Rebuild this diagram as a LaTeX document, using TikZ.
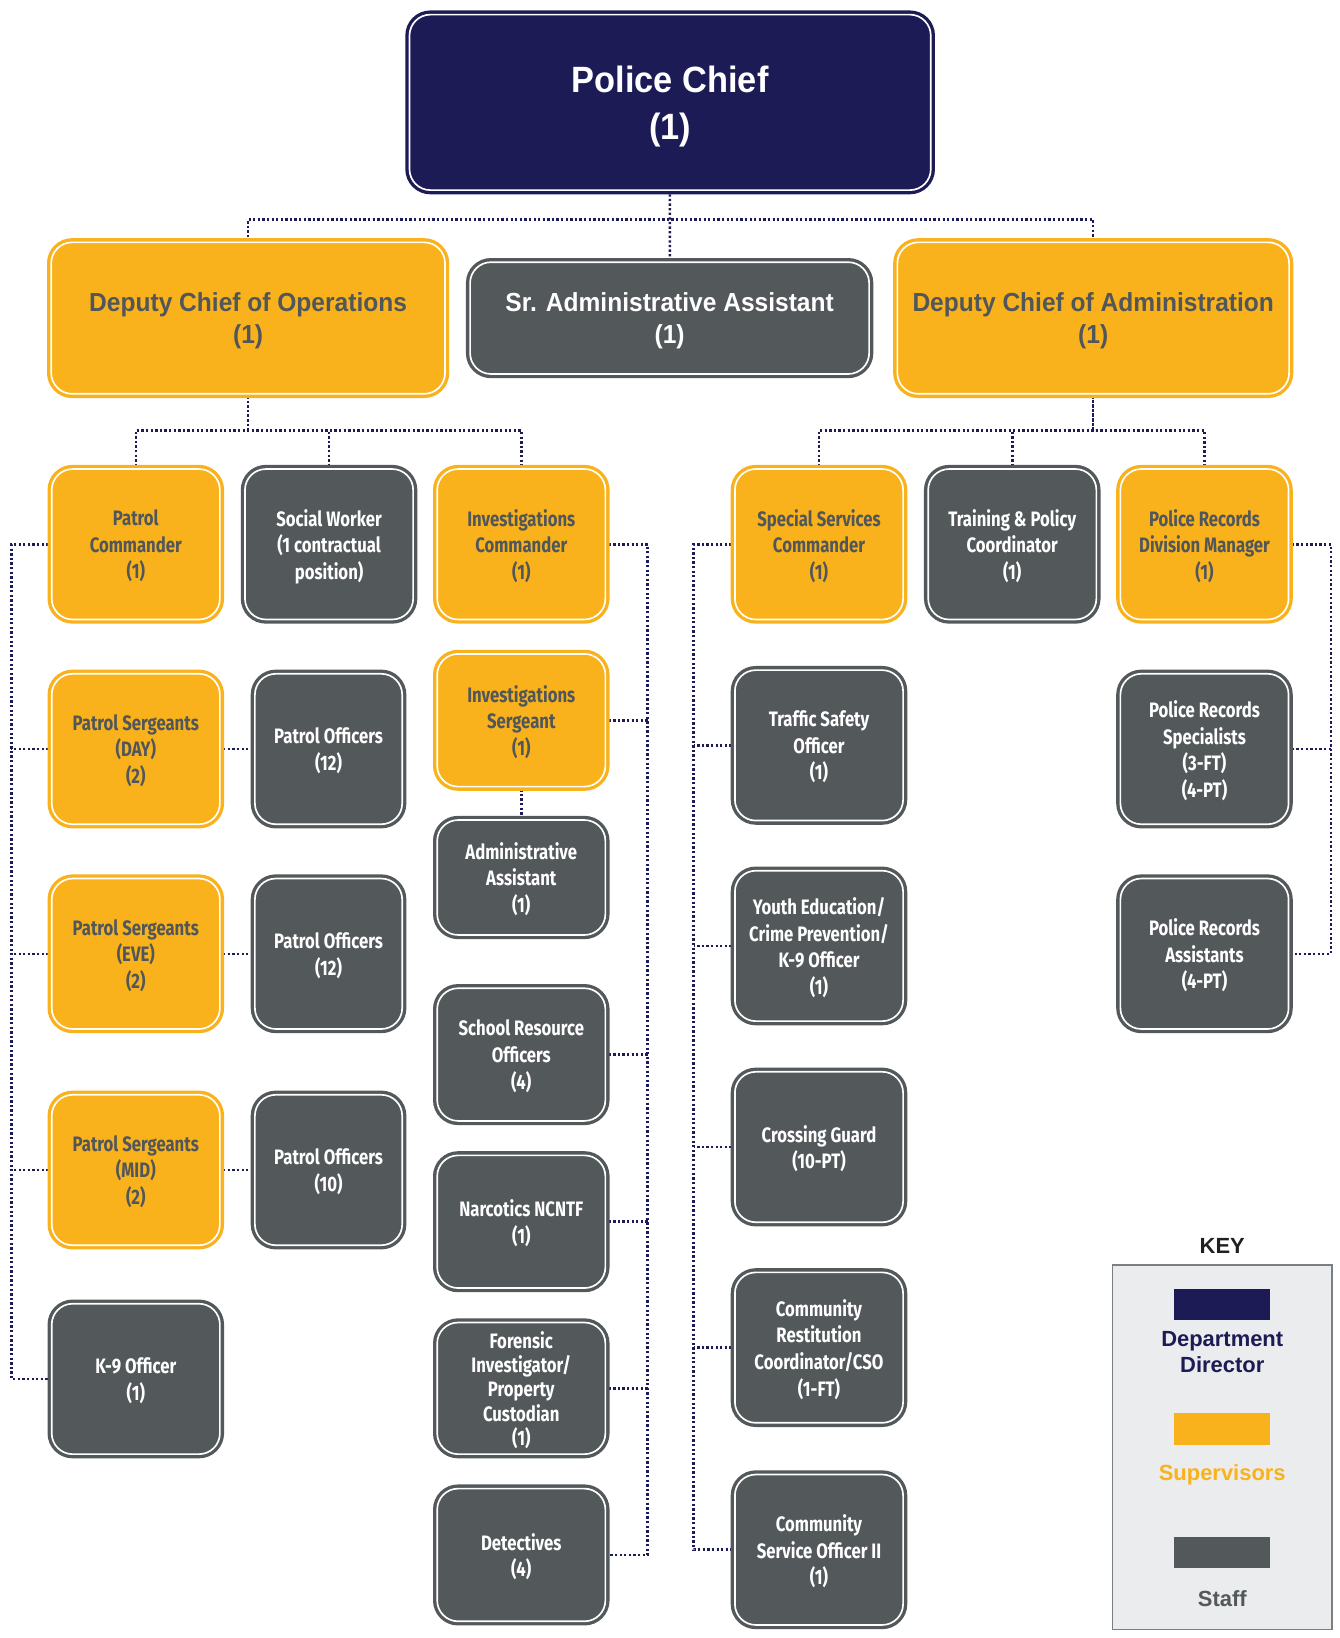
\documentclass[tikz,border=0pt]{standalone}
\usepackage{fontspec}
\usetikzlibrary{backgrounds}
\newfontfamily\condf[FakeStretch=0.8]{Fira Sans}
\newfontfamily\headf[FakeStretch=0.94]{Liberation Sans}
\newfontfamily\keyf{Liberation Sans}
\definecolor{navy}{HTML}{1D1B55}
\definecolor{ylw}{HTML}{F9B21B}
\definecolor{gry}{HTML}{53585A}
\definecolor{gtxt}{HTML}{50565A}
\definecolor{keybg}{HTML}{EBECEE}
\definecolor{keyln}{HTML}{7B7F82}
\definecolor{keytxt}{HTML}{231F20}
\tikzset{
  base/.style={rounded corners=20pt, line width=3.2pt, double distance=1.6pt, align=center, inner sep=0pt, text depth=0pt},
  supbox/.style={base, fill=ylw, draw=ylw, double=white, text=gtxt, font=\condf\bfseries\fontsize{20}{25.5}\selectfont},
  stfbox/.style={base, fill=gry, draw=gry, double=white, text=white, font=\condf\bfseries\fontsize{20}{25.5}\selectfont},
  dirbox/.style={base, fill=navy, draw=navy, double=white, text=white, font=\headf\bfseries\fontsize{35}{45}\selectfont},
  depsup/.style={supbox, font=\headf\bfseries\fontsize{25}{30}\selectfont},
  depstf/.style={stfbox, font=\headf\bfseries\fontsize{25}{30}\selectfont},
  std/.style={minimum width=161pt, minimum height=144pt},
  conn/.style={draw=navy, line width=2.4pt, dash pattern=on 2.2pt off 2.2pt},
  swatch/.style={minimum width=92pt, minimum height=30pt, inner sep=0pt},
}
\begin{document}
\begin{tikzpicture}[x=1pt,y=-1pt]
\useasboundingbox (0,0) rectangle (1282,1568);
% top level
\node[dirbox, minimum width=499pt, minimum height=168pt] (chief) at (641.5,98) {Police Chief\\(1)};
\node[depsup, minimum width=377pt, minimum height=145pt] (dco) at (237.5,304.5) {Deputy Chief of Operations\\(1)};
\node[depstf, minimum width=382pt, minimum height=107pt] (sraa) at (641,304.5) {Sr. Administrative Assistant\\(1)};
\node[depsup, minimum width=375pt, minimum height=145pt] (dca) at (1046.5,304.5) {Deputy Chief of Administration\\(1)};
% row 1
\node[supbox, std] (pcmd) at (130,521) {Patrol\\Commander\\(1)};
\node[stfbox, std] (sw) at (315,521) {Social Worker\\(1 contractual\\position)};
\node[supbox, std] (icmd) at (499,521) {Investigations\\Commander\\(1)};
\node[supbox, std] (sscmd) at (784,521) {Special Services\\Commander\\(1)};
\node[stfbox, std] (tpc) at (969,521) {Training \& Policy\\Coordinator\\(1)};
\node[supbox, std] (prdm) at (1153,521) {Police Records\\Division Manager\\(1)};
% patrol column
\node[supbox, std] (psday) at (130,717) {Patrol Sergeants\\(DAY)\\(2)};
\node[supbox, std] (pseve) at (130,913) {Patrol Sergeants\\(EVE)\\(2)};
\node[supbox, std] (psmid) at (130,1120) {Patrol Sergeants\\(MID)\\(2)};
\node[stfbox, std] (kn) at (130,1320) {K-9 Officer\\(1)};
\node[stfbox, minimum width=141pt, minimum height=144pt] (poday) at (314.5,717) {Patrol Officers\\(12)};
\node[stfbox, minimum width=141pt, minimum height=144pt] (poeve) at (314.5,913) {Patrol Officers\\(12)};
\node[stfbox, minimum width=141pt, minimum height=144pt] (pomid) at (314.5,1120) {Patrol Officers\\(10)};
% investigations column
\node[supbox, minimum width=161pt, minimum height=127pt] (isgt) at (499,689.5) {Investigations\\Sergeant\\(1)};
\node[stfbox, minimum width=161pt, minimum height=110pt] (aa) at (499,840) {Administrative\\Assistant\\(1)};
\node[stfbox, minimum width=161pt, minimum height=127pt] (sro) at (499,1009.5) {School Resource\\Officers\\(4)};
\node[stfbox, minimum width=161pt, minimum height=127pt] (narc) at (499,1169.5) {Narcotics NCNTF\\(1)};
\node[stfbox, minimum width=161pt, minimum height=126pt, font=\condf\bfseries\fontsize{20}{23.2}\selectfont] (foren) at (499,1329) {Forensic\\Investigator/\\Property\\Custodian\\(1)};
\node[stfbox, minimum width=161pt, minimum height=127pt] (det) at (499,1488.5) {Detectives\\(4)};
% special services column
\node[stfbox, std] (traffic) at (784,713.5) {Traffic Safety\\Officer\\(1)};
\node[stfbox, std] (youth) at (784,905.5) {Youth Education/\\Crime Prevention/\\K-9 Officer\\(1)};
\node[stfbox, std] (cross) at (784,1098) {Crossing Guard\\(10-PT)};
\node[stfbox, std] (restit) at (784,1290) {Community\\Restitution\\Coordinator/CSO\\(1-FT)};
\node[stfbox, std] (cso) at (784,1483.5) {Community\\Service Officer II\\(1)};
% records column
\node[stfbox, std] (prs) at (1153,717) {Police Records\\Specialists\\(3-FT)\\(4-PT)};
\node[stfbox, std] (pra) at (1153,913) {Police Records\\Assistants\\(4-PT)};
% key
\node[font=\keyf\bfseries\fontsize{21}{24}\selectfont, text=keytxt] (keyt) at (1170,1193) {KEY};
\node[draw=keyln, line width=1.5pt, fill=keybg, minimum width=210pt, minimum height=349pt, inner sep=0pt] (keybox) at (1170,1385.5) {};
\node[swatch, fill=navy] (kw1) at (1170,1249) {};
\node[swatch, fill=ylw] (kw2) at (1170,1368) {};
\node[swatch, fill=gry] (kw3) at (1170,1486) {};
\node[font=\keyf\bfseries\fontsize{21}{25}\selectfont, text=navy, align=center] (kl1) at (1170,1294) {Department\\Director};
\node[font=\keyf\bfseries\fontsize{21}{25}\selectfont, text=ylw] (kl2) at (1170,1412) {Supervisors};
\node[font=\keyf\bfseries\fontsize{21}{25}\selectfont, text=gry] (kl3) at (1170,1530) {Staff};
% connectors
\coordinate (topbus) at (641,210);
\coordinate (opsbus) at (233,412);
\coordinate (admbus) at (1049,412);
\coordinate (pl) at (11,0);
\coordinate (ir) at (620,0);
\coordinate (sl) at (664,0);
\coordinate (rr) at (1274,0);
\begin{pgfonlayer}{background}
\draw[conn] (chief.center) -- (sraa.center);
\draw[conn] (dco.center |- opsbus) |- (topbus) -| (dca.center |- admbus);
\draw[conn] (dco.center) -- (dco.center |- opsbus);
\draw[conn] (dca.center) -- (dca.center |- admbus);
\draw[conn] (pcmd.center) |- (opsbus) -| (icmd.center);
\draw[conn] (sw.center) -- (sw.center |- opsbus);
\draw[conn] (sscmd.center) |- (admbus) -| (prdm.center);
\draw[conn] (tpc.center) -- (tpc.center |- admbus);
% patrol
\draw[conn] (pcmd.center) -- (pcmd.center -| pl) -- (kn.center -| pl) -- (kn.center);
\draw[conn] (psday.center) -- (psday.center -| pl);
\draw[conn] (pseve.center) -- (pseve.center -| pl);
\draw[conn] (psmid.center) -- (psmid.center -| pl);
\draw[conn] (psday.center) -- (poday.center);
\draw[conn] (pseve.center) -- (poeve.center);
\draw[conn] (psmid.center) -- (pomid.center);
% investigations
\draw[conn] (icmd.center) -- (icmd.center -| ir) -- (det.center -| ir) -- (det.center);
\draw[conn] (isgt.center) -- (isgt.center -| ir);
\draw[conn] (isgt.center) -- (aa.center);
\draw[conn] (sro.center) -- (sro.center -| ir);
\draw[conn] (narc.center) -- (narc.center -| ir);
\draw[conn] (foren.center) -- (foren.center -| ir);
% special services
\draw[conn] (sscmd.center) -- (sscmd.center -| sl) -- (cso.center -| sl) -- (cso.center);
\draw[conn] (traffic.center) -- (traffic.center -| sl);
\draw[conn] (youth.center) -- (youth.center -| sl);
\draw[conn] (cross.center) -- (cross.center -| sl);
\draw[conn] (restit.center) -- (restit.center -| sl);
% records
\draw[conn] (prdm.center) -- (prdm.center -| rr) -- (pra.center -| rr) -- (pra.center);
\draw[conn] (prs.center) -- (prs.center -| rr);
\end{pgfonlayer}
\end{tikzpicture}
\end{document}
